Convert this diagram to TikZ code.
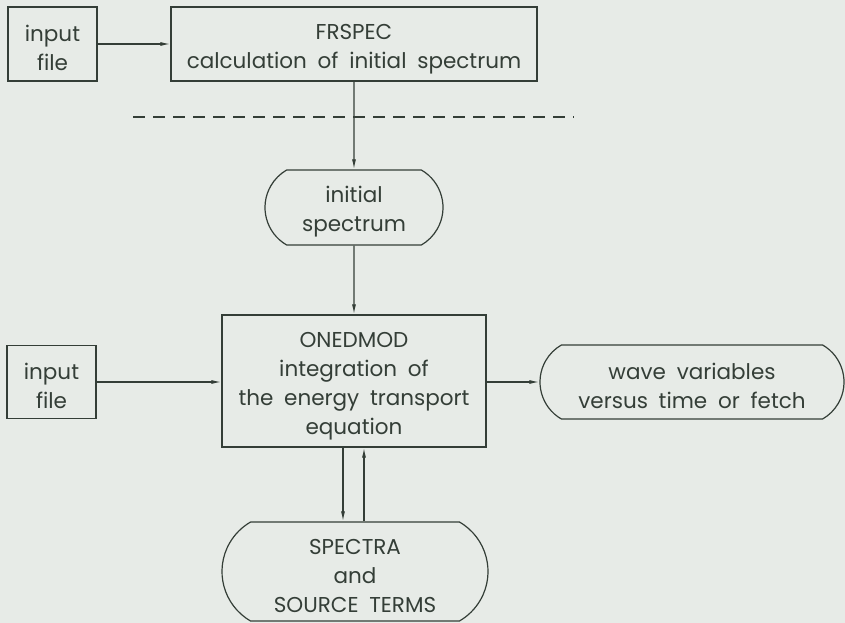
\documentclass[tikz,border=0pt]{standalone}
\usepackage{fontspec}
\setmainfont{Poppins}
\usepackage{tikz}
\definecolor{paper}{RGB}{231,235,231}
\definecolor{ink}{RGB}{52,62,55}
\usetikzlibrary{arrows.meta, shapes.misc}
\newcommand{\chartfont}{\fontsize{21.5}{29}\selectfont\setlength{\spaceskip}{0.5em}}
\newcommand{\lift}{\rule{0pt}{25pt}}

\begin{document}
\begin{tikzpicture}[x=1pt, y=-1pt, >={Latex[length=10pt,width=4pt]},   %Pfeilspitzen
		box/.style={draw=ink, line width=1.2pt, text=ink, align=center, inner sep=0pt},
		pill/.style={box, rounded rectangle, rounded rectangle arc length=120},
		font=\chartfont]
		\fill[paper] (0,0) rectangle (845,623);
		\useasboundingbox (0,0) rectangle (845,623);
		\node[box, minimum width=89pt, minimum height=74pt] (in1) at (52.5,44) {\lift input\\file};
		\node[box, minimum width=366pt, minimum height=74pt] (frspec) at (354,44) {\lift FRSPEC\\calculation of initial spectrum};
		\coordinate (cut1) at (133,117);
		\coordinate (cut2) at (574,117);
		\node[pill, minimum width=178pt, minimum height=75pt] (init) at (354,207.5) {\lift initial\\spectrum};
		\node[box, minimum width=264pt, minimum height=132pt] (onedmod) at (354,381) {\lift ONEDMOD\\integration of\\the energy transport\\equation};
		\node[box, minimum width=89pt, minimum height=73pt] (in2) at (51.5,382) {\lift input\\file};
		\node[pill, minimum width=304pt, minimum height=74pt] (wave) at (692,382) {\lift wave variables\\versus time or fetch};
		\node[pill, minimum width=266pt, minimum height=99pt] (spectra) at (355,571.5) {\lift SPECTRA\\and\\SOURCE TERMS};
		\draw[ink, line width=1.2pt, dash pattern=on 12pt off 8pt] (cut1) -- (cut2);
		\begin{scope}[ink, line width=1.2pt]
			\draw[->] (in1) -- (frspec);
			\draw[->] (frspec) -- (init);
			\draw[->] (init) -- (onedmod);
			\draw[->] (in2.east) -- (in2.east -| onedmod.west);
			\draw[->] (onedmod.east |- wave.west) -- (wave.west);
			\draw[->] ([xshift=-11pt]onedmod.south) -- ([xshift=-12pt]spectra.north);
			\draw[->] ([xshift=9pt]spectra.north) -- ([xshift=10pt]onedmod.south);
		\end{scope}
\end{tikzpicture}
\end{document}
